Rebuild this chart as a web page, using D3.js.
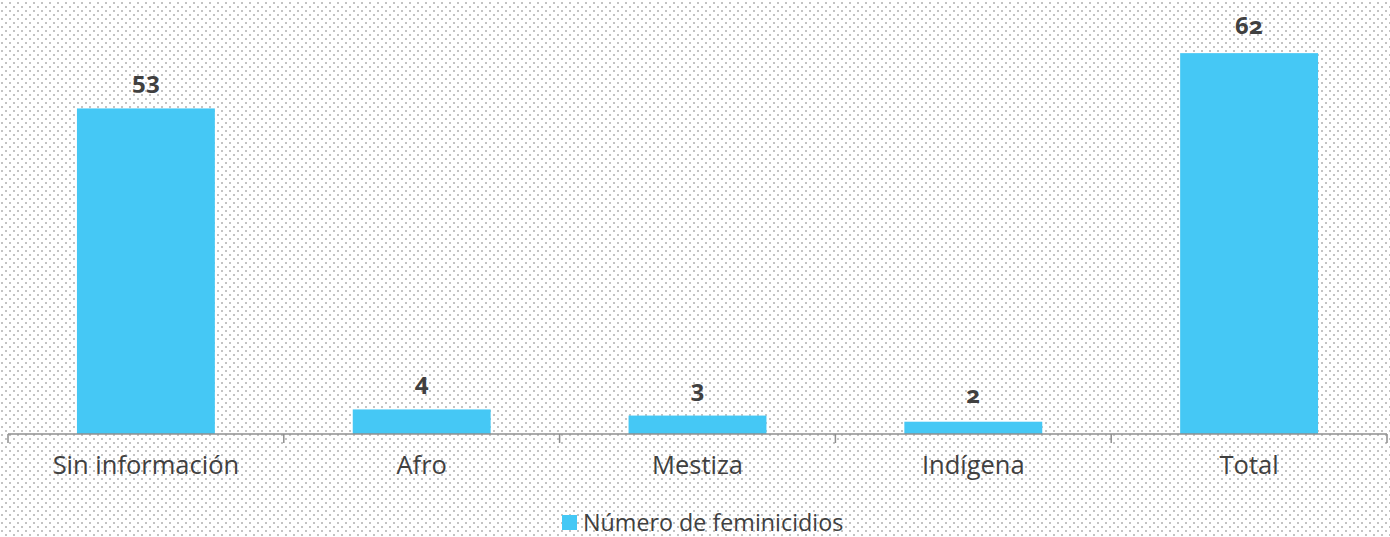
<!DOCTYPE html>
<html>
<head>
<meta charset="utf-8">
<script src="https://cdn.jsdelivr.net/npm/d3@7"></script>
<style>
html,body{margin:0;padding:0;background:#fff;}
svg{display:block;}
</style>
</head>
<body>
<svg id="chart" width="1390" height="537"></svg>
<script>
const categories = ["Sin información", "Afro", "Mestiza", "Indígena", "Total"];
const values = [53, 4, 3, 2, 62];
const seriesName = "Número de feminicidios";
const yDomain = [0, 70];

const W = 1390, H = 537;
const svg = d3.select("#chart");
const defs = svg.append("defs");
const pat = defs.append("pattern").attr("id","dots").attr("patternUnits","userSpaceOnUse")
  .attr("width",8).attr("height",8);
pat.append("rect").attr("x",1).attr("y",2).attr("width",2).attr("height",2).attr("fill","#c3c3c3");
pat.append("rect").attr("x",5).attr("y",6).attr("width",2).attr("height",2).attr("fill","#c3c3c3");
svg.append("rect").attr("width",W).attr("height",H).attr("fill","#fff");
svg.append("rect").attr("width",W).attr("height",H).attr("fill","url(#dots)");

const x0 = 8, x1 = 1387, yBase = 434, yTop = 4;
const x = d3.scaleBand().domain(categories).range([x0, x1]).paddingInner(0.5).paddingOuter(0.25);
const y = d3.scaleLinear().domain(yDomain).range([yBase, yTop]);
const color = "#45c8f5";

svg.append("g").selectAll("rect").data(categories).join("rect")
  .attr("x", d => x(d))
  .attr("y", (d,i) => y(values[i]))
  .attr("width", x.bandwidth())
  .attr("height", (d,i) => y(0) - y(values[i]))
  .attr("fill", color);

// axis
const step = x.step();
const ax = svg.append("g").attr("stroke","#8f8f8f").attr("stroke-width",1.5).attr("fill","none");
ax.append("line").attr("x1",x0).attr("x2",x1).attr("y1",yBase).attr("y2",yBase);
d3.range(categories.length+1).forEach(i=>{
  const xx = x0 + i*step;
  ax.append("line").attr("x1",xx).attr("x2",xx).attr("y1",yBase).attr("y2",yBase+9);
});

// category labels
svg.append("g").selectAll("text").data(categories).join("text")
  .attr("x", d => x(d) + x.bandwidth()/2)
  .attr("y", 474)
  .attr("text-anchor","middle")
  .attr("font-family","'Open Sans', sans-serif")
  .attr("font-size", 25.5)
  .attr("fill","#404040")
  .text(d => d);

// value labels
svg.append("g").selectAll("text").data(categories).join("text")
  .attr("x", d => x(d) + x.bandwidth()/2)
  .attr("y", (d,i) => y(values[i]) - 19)
  .attr("text-anchor","middle")
  .attr("font-family","'Noto Sans', sans-serif")
  .attr("font-weight","bold")
  .attr("font-size", 24)
  .style("font-variant-numeric","oldstyle-nums")
  .style("font-feature-settings","'onum' 1")
  .attr("fill","#404040")
  .text((d,i) => values[i]);

// legend
const lg = svg.append("g");
lg.append("rect").attr("x",562).attr("y",515).attr("width",15).attr("height",15).attr("fill",color);
lg.append("text").attr("x",583).attr("y",531)
  .attr("font-family","'Open Sans', sans-serif").attr("font-size",23.3).attr("fill","#404040")
  .text(seriesName);
</script>
</body>
</html>
